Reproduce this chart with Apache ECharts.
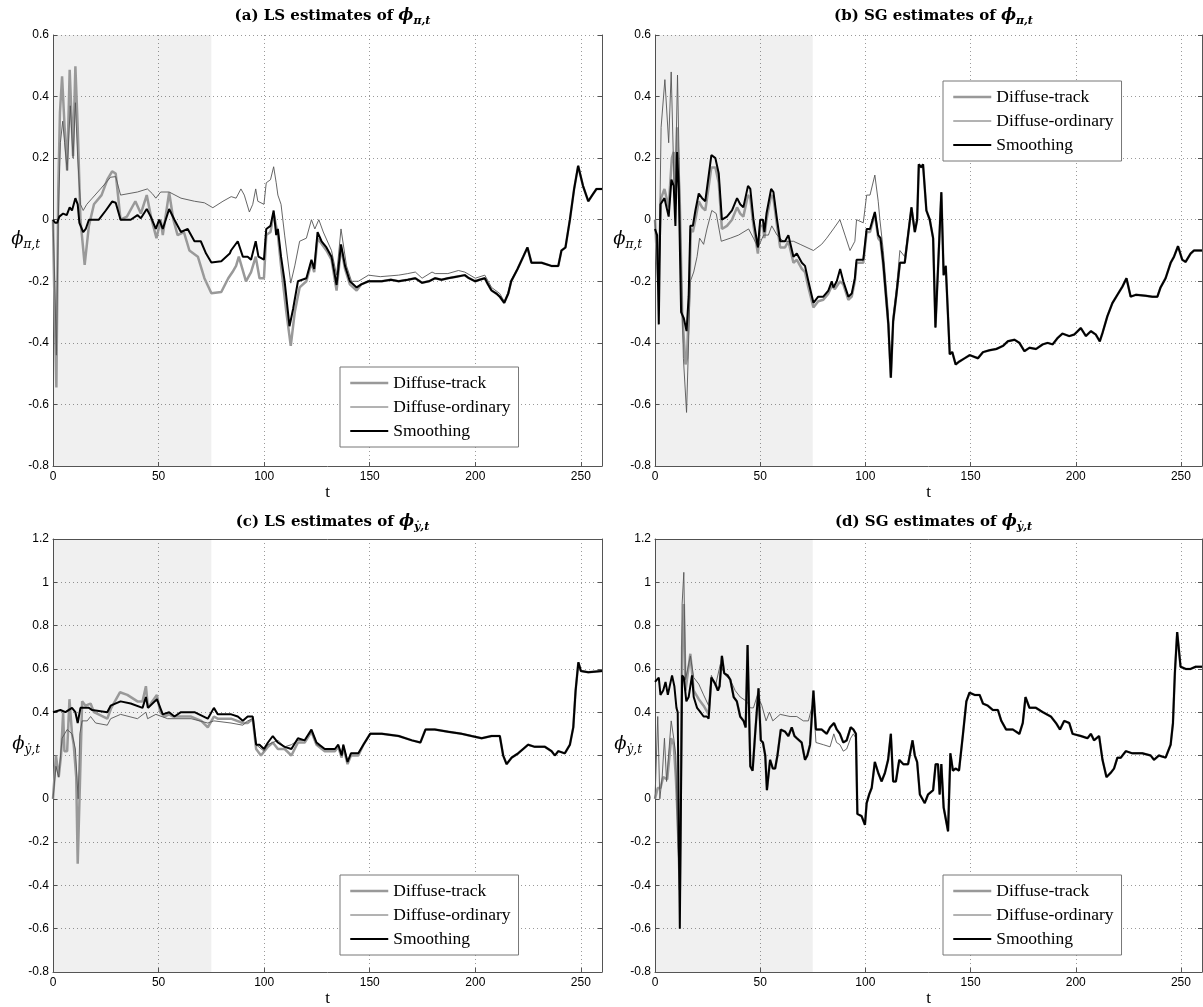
<!DOCTYPE html>
<html>
<head>
<meta charset="utf-8">
<script src="https://cdn.jsdelivr.net/npm/echarts@6/dist/echarts.min.js"></script>
<style>
  html, body { margin: 0; padding: 0; background: #fff; }
  #chart { width: 1203px; height: 1007px; }
</style>
</head>
<body>
<div id="chart"></div>
<script>
// ---- estimates, [t, value] pairs ----

// (a) LS estimates of phi_pi
const lsPiTrack = [[0,0.0],[0.5,-0.2],[1.6,-0.545],[2.5,0.1],[3.3,0.35],[4.3,0.466],[5.5,0.3],[6.7,0.16],[7.9,0.487],[9.5,0.207],[10.6,0.498],[11.7,0.3],[13,0.0],[15,-0.147],[17,-0.02],[19.4,0.05],[23,0.08],[25.7,0.13],[28,0.157],[29.7,0.15],[32,0.0],[35,0.01],[39,0.06],[41.6,0.02],[44.4,0.08],[46.7,0.0],[49,-0.06],[51,0.0],[52,-0.05],[55,0.089],[57,0.0],[59,-0.05],[62,-0.04],[64.6,-0.1],[68.6,-0.12],[71.7,-0.19],[75,-0.239],[79.7,-0.235],[83,-0.19],[85,-0.17],[86.7,-0.15],[88,-0.12],[91.4,-0.2],[93.8,-0.17],[96,-0.12],[97.8,-0.19],[99.9,-0.19],[101,-0.05],[103,-0.04],[104.5,0.02],[106.5,-0.05],[108,-0.15],[110.5,-0.3],[112.6,-0.41],[114.5,-0.3],[116.8,-0.22],[120,-0.2],[122.4,-0.14],[123.7,-0.17],[125.3,-0.06],[129.5,-0.1],[131.9,-0.13],[134.3,-0.23],[136.4,-0.09],[138.3,-0.16],[140.6,-0.21],[143.8,-0.23]];
const lsPiOrd = [[0,0.0],[0.8,-0.2],[1.6,-0.44],[2.5,0.0],[3.5,0.25],[4.6,0.32],[5.5,0.25],[6.7,0.16],[8.2,0.37],[9.5,0.2],[10.6,0.38],[11.7,0.2],[13,0.05],[14.3,0.03],[16,0.05],[18.6,0.07],[22.5,0.1],[27.3,0.138],[29.7,0.14],[32,0.08],[36,0.085],[40,0.09],[44.7,0.1],[47,0.085],[48.7,0.07],[51,0.09],[55,0.09],[60.6,0.07],[67,0.06],[71.7,0.055],[75.7,0.039],[80.5,0.06],[84.4,0.075],[86.7,0.07],[89,0.1],[90.6,0.08],[93,0.025],[94.6,0.05],[96,0.1],[97,0.06],[99.9,0.05],[101,0.12],[103,0.13],[104.5,0.172],[105.7,0.12],[106.5,0.08],[108,0.05],[109.7,-0.05],[112.6,-0.206],[114.5,-0.15],[116.8,-0.07],[120,-0.06],[122.4,0.0],[124,-0.03],[125.9,0.0],[128,-0.04],[131.9,-0.1],[134.3,-0.18],[136.4,-0.03],[139,-0.15],[141.4,-0.2],[144.6,-0.2]];
const lsPiOrdMid = [[149.4,-0.18],[155,-0.185],[163.7,-0.18],[168,-0.175],[171.6,-0.17],[174.8,-0.19],[179.5,-0.17],[181,-0.175],[187,-0.175],[192,-0.165],[195,-0.17],[200,-0.19],[204.5,-0.18],[207.7,-0.22],[211.6,-0.24],[213.7,-0.265],[215.6,-0.235],[217,-0.195]];
const lsPiSmooth = [[0,0.0],[1,-0.01],[2,-0.01],[3,0.01],[4.8,0.02],[6.5,0.015],[7.9,0.04],[9,0.03],[10.6,0.07],[11.7,0.05],[12.5,-0.01],[14.3,-0.04],[15.5,-0.03],[17,0.0],[19.4,0.0],[21.7,0.0],[25,0.03],[28,0.059],[29.7,0.055],[32,0.0],[36.8,0.0],[40,0.015],[41.6,0.005],[44.4,0.035],[46.3,0.01],[48.7,-0.03],[50.3,0.0],[52,-0.03],[55,0.035],[57.5,0.0],[60.6,-0.04],[63.8,-0.03],[67,-0.07],[70,-0.07],[72.5,-0.11],[75,-0.139],[79.7,-0.135],[83.7,-0.11],[84.3,-0.1],[87.5,-0.07],[89.9,-0.12],[92.2,-0.12],[93.8,-0.13],[96,-0.07],[97.3,-0.12],[99.9,-0.13],[101,-0.03],[103,-0.02],[104.5,0.03],[105.7,-0.05],[106.5,-0.03],[108,-0.12],[109.7,-0.2],[112,-0.346],[113.7,-0.29],[116,-0.2],[120,-0.19],[122.4,-0.13],[123.7,-0.16],[125.3,-0.04],[127.2,-0.07],[129.5,-0.09],[131.9,-0.12],[134.3,-0.212],[136.4,-0.08],[138.3,-0.15],[140.6,-0.2],[143.8,-0.22]];
const lsPiTailMid = [[146,-0.21],[149.4,-0.2],[155.7,-0.2],[160,-0.195],[163.7,-0.2],[168,-0.195],[171.6,-0.19],[174.8,-0.205],[178,-0.2],[181,-0.19],[184,-0.195],[187,-0.19],[191,-0.185],[195,-0.18],[197,-0.19],[200,-0.2],[202,-0.195],[204.5,-0.19],[206,-0.21],[207.7,-0.23],[210,-0.24],[211.6,-0.25],[213.7,-0.27],[215.6,-0.24],[217,-0.2]];
const lsPiTailEnd = [[220,-0.16],[222.7,-0.12],[224.7,-0.09],[226.6,-0.14],[231.4,-0.14],[236,-0.15],[239.3,-0.15],[240.8,-0.1],[242.7,-0.09],[244.8,0.0],[246.8,0.1],[248.7,0.175],[251,0.11],[253.5,0.06],[255.4,0.08],[257.4,0.1],[260,0.1]];

// (b) SG estimates of phi_pi
const sgPiTrack = [[0,0.0],[0.7,0.0],[1.5,-0.2],[2.9,0.07],[4.5,0.1],[6.5,0.04],[8,0.2],[8.9,0.22],[9.7,0.05],[10.5,0.3],[11.8,0.05],[12.9,-0.3],[14.5,-0.47],[15.2,-0.45],[16.5,-0.2],[17,-0.03],[18,-0.04],[19.2,0.0],[20.8,0.06],[22.4,0.04],[23.9,0.03],[26.8,0.17],[28.7,0.17],[30.3,0.12],[31.8,-0.03],[34.2,-0.02],[36.6,0.0],[39,0.04],[40.5,0.02],[42,0.01],[44.2,0.08],[45.3,0.07],[46.8,-0.02],[48.9,-0.11],[50,-0.02],[51.3,-0.02],[52,-0.06],[53,0.0],[55.2,0.08],[56.3,0.07],[58,-0.02],[59.5,-0.09],[61.8,-0.09],[63.4,-0.07],[65.8,-0.14],[67.4,-0.13],[69.8,-0.16],[71.3,-0.17],[72.9,-0.22],[75.3,-0.285],[77.6,-0.265],[80,-0.26],[82.4,-0.24],[84,-0.215],[85.5,-0.225],[88,-0.2],[89.5,-0.21],[91.9,-0.26],[93.5,-0.25],[95,-0.2],[95.8,-0.14],[99,-0.14],[100.6,-0.04],[102.2,-0.04],[104.5,0.02],[106.1,-0.06],[107.2,-0.07],[108.5,-0.15]];
const sgPiOrd = [[0,0.0],[0.7,0.0],[1.8,-0.22],[2.9,0.3],[4.7,0.455],[6.5,0.25],[7.7,0.48],[9.4,0.02],[10.7,0.47],[12,0.0],[13.5,-0.45],[15,-0.626],[16.8,-0.2],[18.4,-0.17],[20,-0.12],[21.2,-0.06],[23.1,-0.08],[24.7,-0.03],[27,0.03],[29.1,0.02],[31.5,-0.07],[35.8,-0.06],[39.7,-0.05],[44.5,-0.03],[46.8,-0.06],[49,-0.09],[51.6,-0.05],[53.9,-0.05],[55.5,-0.02],[58,-0.05],[61,-0.07],[65.8,-0.07],[69,-0.08],[75.3,-0.1],[79.2,-0.08],[81.6,-0.06],[84.8,-0.03],[87.9,0.0],[90.3,-0.05],[92.7,-0.1],[95,-0.07],[95.8,0.0],[99,-0.01],[100.6,0.08],[102.2,0.08],[104.5,0.145],[106.1,0.06],[106.9,0.0],[108.5,-0.1],[110.9,-0.3],[112.1,-0.49],[113.2,-0.31],[114.8,-0.22],[116.4,-0.1],[118.7,-0.12]];
const sgPiSmooth = [[0,-0.03],[1,-0.05],[1.8,-0.34],[2.6,0.05],[4.5,0.07],[6.5,0.01],[7.8,0.13],[8.9,0.11],[9.7,-0.02],[10.5,0.22],[11.3,0.1],[12.4,-0.3],[13.7,-0.32],[15,-0.362],[16,-0.25],[16.8,-0.02],[18,-0.02],[19.2,0.03],[20.8,0.085],[22.4,0.07],[23.9,0.06],[26.8,0.21],[28.7,0.2],[30.3,0.15],[31.8,0.0],[34.2,0.01],[36.6,0.03],[39,0.07],[40.5,0.05],[42,0.04],[44.2,0.11],[45.3,0.1],[46.8,0.0],[48.9,-0.09],[50,0.0],[51.3,0.0],[52,-0.04],[53,0.02],[55.2,0.1],[56.3,0.09],[58,0.0],[59.5,-0.07],[61.8,-0.07],[63.4,-0.05],[65.8,-0.12],[67.4,-0.11],[69.8,-0.14],[71.3,-0.15],[72.9,-0.2],[75.3,-0.27],[77.6,-0.25],[80,-0.25],[82.4,-0.23],[84,-0.2],[84.8,-0.22],[86.4,-0.2],[88,-0.16],[89.5,-0.2],[91.9,-0.25],[93.5,-0.24],[95,-0.19],[95.8,-0.13],[99,-0.13],[100.6,-0.03],[102.2,-0.03],[104.5,0.025],[106.1,-0.05],[107.2,-0.06],[108.5,-0.14]];
const sgPiTailMid = [[110.9,-0.34],[112.1,-0.513],[113.2,-0.33],[114.8,-0.24],[116.4,-0.14],[118.7,-0.14]];
const sgPiTailEnd = [[121.9,0.04],[123.5,-0.04],[124.6,0.0],[125.4,0.18],[126.6,0.17],[127.4,0.18],[129,0.03],[130.6,0.0],[132.2,-0.06],[133.3,-0.35],[134.2,-0.35],[136.1,0.089],[137.2,-0.18],[138.2,-0.15],[140.1,-0.437],[141.3,-0.43],[142.9,-0.47],[144.8,-0.46],[147.2,-0.45],[149.6,-0.44],[153.5,-0.45],[155.9,-0.43],[159,-0.424],[162.2,-0.42],[165.4,-0.41],[167.7,-0.395],[170.9,-0.39],[173.2,-0.4],[175.6,-0.427],[178,-0.416],[181.1,-0.42],[184.3,-0.405],[186.6,-0.4],[189,-0.405],[191.4,-0.384],[193.7,-0.37],[196.9,-0.378],[199.3,-0.373],[202.4,-0.352],[204.8,-0.378],[207.2,-0.362],[209.5,-0.373],[211.4,-0.395],[212.7,-0.368],[215,-0.314],[217.4,-0.271],[219.8,-0.244],[222.2,-0.217],[224.1,-0.19],[226.1,-0.25],[228.5,-0.244],[233.2,-0.247],[236.4,-0.25],[238.8,-0.25],[240.3,-0.22],[242.7,-0.19],[245.1,-0.14],[246.7,-0.12],[248.6,-0.086],[250.6,-0.13],[252.2,-0.137],[254.6,-0.11],[256.2,-0.1],[260,-0.1]];

// (c) LS estimates of phi_y
const lsYTrack = [[0,0.0],[1.4,0.2],[2.7,0.1],[3.8,0.2],[4.8,0.4],[5.4,0.22],[6.7,0.22],[7.8,0.46],[9,0.3],[9.8,0.25],[11,0.1],[11.7,-0.3],[12.7,0.05],[13.8,0.45],[15.4,0.43],[17.8,0.44],[19.4,0.4],[25.7,0.37],[27.6,0.42],[31.7,0.492],[35.2,0.48],[40,0.45],[42.4,0.45],[44,0.52],[45,0.42],[47,0.45],[49.2,0.48],[50.8,0.4],[52.7,0.38],[55,0.39],[56.7,0.38],[60.6,0.38],[65.4,0.38],[70.2,0.36],[73.3,0.33],[76.2,0.38],[78,0.37],[84.3,0.37],[89.9,0.35],[92.2,0.35],[94.6,0.37],[96.2,0.23],[98.5,0.2],[101.8,0.24],[104.1,0.26],[106.5,0.23],[109.7,0.23],[112.9,0.2],[116,0.26],[119.2,0.26],[122.4,0.31],[124.8,0.25],[128.7,0.22],[133.5,0.22],[135.1,0.24],[136.7,0.19],[137.5,0.24],[139.5,0.16],[141.1,0.2],[144.6,0.2]];
const lsYOrd = [[0,0.0],[1.4,0.15],[2.7,0.1],[4.3,0.28],[6.7,0.32],[9,0.3],[10.6,0.23],[11.9,0.0],[12.7,0.3],[13.8,0.36],[16.2,0.36],[17.8,0.38],[20.2,0.35],[25.7,0.34],[27.3,0.37],[32,0.39],[40,0.37],[44,0.4],[44.8,0.37],[48.7,0.39],[54.3,0.37],[65.4,0.37],[73.3,0.35],[76.2,0.36],[84.3,0.35],[89.9,0.34],[92.2,0.36],[94.6,0.37],[96.2,0.25],[99.9,0.22],[101.8,0.25],[104.1,0.26],[106.5,0.27],[109.7,0.24],[112.9,0.25],[116,0.27],[119.2,0.27],[122.4,0.31],[124.8,0.25],[128.7,0.23],[133.5,0.23],[135.1,0.25],[136.7,0.2],[137.5,0.25],[139.5,0.17],[141.1,0.21],[144.6,0.21]];
const lsYSmooth = [[0,0.4],[3.5,0.41],[5.9,0.4],[9,0.42],[10.6,0.4],[11.7,0.35],[13,0.42],[17,0.42],[18.6,0.41],[25.7,0.4],[27.3,0.43],[32,0.45],[36.8,0.44],[42.4,0.42],[44,0.47],[45,0.42],[49.2,0.46],[52,0.39],[55,0.4],[57.5,0.38],[60.6,0.4],[67,0.4],[73.3,0.37],[76.2,0.42],[78,0.39],[84.4,0.39],[87.5,0.38],[89.9,0.36],[92.2,0.38],[94.6,0.38],[96.2,0.25],[97.8,0.25],[99.9,0.23],[101.8,0.26],[104.1,0.29],[106.5,0.26],[109.7,0.24],[112.9,0.23],[116,0.28],[119.2,0.27],[122.4,0.32],[124.8,0.26],[128.7,0.23],[133.5,0.23],[135.1,0.25],[136.7,0.2],[137.5,0.25],[139.5,0.17],[141.1,0.21],[144.6,0.21]];
const lsYTail = [[147,0.25],[150.2,0.3],[155.7,0.3],[163.7,0.29],[170,0.27],[174,0.26],[176.4,0.32],[180.8,0.32],[187.1,0.31],[193.5,0.3],[198.2,0.29],[203,0.28],[207.7,0.29],[211.6,0.29],[213.2,0.2],[214.8,0.16],[217.2,0.19],[220.3,0.21],[225,0.25],[228.2,0.24],[233,0.24],[236.1,0.22],[237.7,0.2],[239.3,0.22],[242.4,0.21],[244.8,0.25],[246.4,0.33],[247.5,0.5],[248.8,0.63],[250,0.59],[253.5,0.585],[260,0.59]];

// (d) SG estimates of phi_y
const sgYTrack = [[0,0.0],[0.7,0.0],[1.3,0.05],[2.6,0.05],[3.9,0.1],[5.8,0.09],[7.7,0.28],[8.9,0.25],[9.9,0.1],[10.8,-0.1],[11.8,-0.42],[12.9,0.7],[13.7,0.9],[14.5,0.5],[16.8,0.67],[18.4,0.5],[20.8,0.46],[23.1,0.43],[25.5,0.39]];
const sgYOrd = [[0,0.0],[0.7,0.0],[1.3,0.38],[2.3,0.0],[3.4,0.1],[4.5,0.28],[5.5,0.08],[7.7,0.36],[8.9,0.28],[9.9,0.2],[10.8,-0.2],[11.8,-0.4],[12.9,0.9],[13.7,1.046],[14.5,0.55],[16.8,0.66],[18.4,0.56],[20.8,0.53],[23.1,0.48],[25.5,0.43],[26.8,0.57],[28.7,0.52],[31,0.62],[33.4,0.57],[35.8,0.55],[38.1,0.5],[40.5,0.47],[43.6,0.45],[45.3,0.42],[46.8,0.42],[48.7,0.48],[50.8,0.43],[52.8,0.36],[54.4,0.4],[56,0.36],[59.5,0.39],[64.2,0.38],[67.4,0.38],[70.5,0.36],[72.9,0.36],[75.3,0.45],[76.5,0.26],[80,0.25],[83.2,0.24],[85,0.3],[86.3,0.26],[87.9,0.25],[89.5,0.22],[91.1,0.23],[93,0.28],[94.3,0.3],[95.5,0.28]];
const sgYSmooth = [[0,0.54],[0.7,0.54],[1.8,0.56],[2.6,0.48],[3.9,0.5],[5,0.54],[6.1,0.48],[7,0.48],[8.1,0.57],[9.2,0.52],[10.2,0.42],[10.8,0.4],[11.3,-0.15],[11.8,-0.6],[12.4,0.05],[12.9,0.57],[13.7,0.56],[14.9,0.45],[16,0.47],[17.6,0.57],[18.4,0.47],[20,0.42],[21.6,0.4],[23.1,0.38],[24.7,0.38],[25.5,0.37]];
const sgYMid = [[26.8,0.56],[28.7,0.53],[29.9,0.5],[30.7,0.52],[31.8,0.66],[32.9,0.58],[34.5,0.57],[35.8,0.55],[37.4,0.47],[38.9,0.45],[40.5,0.38],[42.1,0.36],[43.1,0.33],[44,0.71],[45.3,0.15],[46.4,0.13],[47.6,0.3],[49.2,0.51],[50.3,0.27],[51.3,0.26],[52.4,0.2],[53.2,0.04],[54.7,0.18],[56,0.14],[57.1,0.14],[58.2,0.2],[59.8,0.32],[61.8,0.31],[63.4,0.29],[65,0.33],[66.3,0.29],[67.4,0.28],[69.7,0.26],[71.3,0.18],[72.4,0.2],[73.7,0.25],[75.3,0.5],[76.5,0.32],[79.2,0.32],[81.6,0.3],[83.2,0.33],[85.1,0.35],[86.4,0.32],[87.9,0.3],[89.5,0.26],[91.1,0.27],[93,0.33],[94.3,0.32],[95.5,0.3]];
const sgYTail = [[96.2,-0.07],[98.2,-0.08],[99.8,-0.12],[100.6,-0.02],[101.8,0.02],[103,0.05],[104.5,0.17],[106.1,0.12],[107.7,0.08],[109.3,0.12],[110.8,0.18],[112.1,0.3],[113.2,0.08],[114.5,0.08],[116.1,0.18],[118,0.16],[120.3,0.16],[122.4,0.27],[123.5,0.2],[124.6,0.17],[125.9,0.02],[128.2,-0.02],[129.8,0.02],[132.2,0.04],[133.4,0.16],[134.5,0.16],[135.3,0.02],[136.1,0.16],[137.2,-0.04],[139.3,-0.15],[140.4,0.21],[141.6,0.13],[142.9,0.14],[144.5,0.13],[146.4,0.3],[148,0.45],[149.5,0.49],[151.9,0.48],[154.3,0.48],[155.9,0.44],[158.2,0.43],[160.6,0.41],[163,0.41],[164.6,0.36],[166.9,0.32],[170.1,0.32],[173.2,0.3],[174.8,0.35],[176.1,0.47],[178,0.42],[181.1,0.42],[184.3,0.4],[188.2,0.38],[190.6,0.35],[192.5,0.32],[194.5,0.36],[196.9,0.35],[198.5,0.3],[202.4,0.29],[205.6,0.28],[207.2,0.3],[208.7,0.27],[211.1,0.29],[212.7,0.18],[214.6,0.1],[216.6,0.12],[218.2,0.14],[219.8,0.19],[221.4,0.19],[223.8,0.22],[226.9,0.21],[231.6,0.21],[235.6,0.2],[237.2,0.18],[239.5,0.2],[242.7,0.19],[245.1,0.25],[246.2,0.35],[247.1,0.58],[248.2,0.77],[249.8,0.61],[252.2,0.6],[254.6,0.6],[257,0.61],[260,0.61]];

// axis ranges and the shaded start-up window
const tRange = [0, 260];
const tStep = 50;
const piRange = [-0.8, 0.6];
const yRange = [-0.8, 1.2];
const yStep = 0.2;
const shadeWindow = [0, 75];
const seriesNames = ['Diffuse-track', 'Diffuse-ordinary', 'Smoothing'];

// ---- layout of the four panels ----
// coveredTick: the tick label that sits under the y-axis symbol and is left blank
const panels = [
  { prefix: '(a) LS estimates of ', sub: 'π,t', box: [53, 35, 549, 431], range: piRange, boxTop: false,
    titleTop: 0, legend: [340, 367], coveredTick: null,
    track: [...lsPiTrack, ...lsPiTailMid, ...lsPiTailEnd],
    ord: [...lsPiOrd, ...lsPiOrdMid, ...lsPiTailEnd],
    smooth: [...lsPiSmooth, ...lsPiTailMid, ...lsPiTailEnd] },
  { prefix: '(b) SG estimates of ', sub: 'π,t', box: [655, 35, 547, 431], range: piRange, boxTop: false,
    titleTop: 0, legend: [943, 81], coveredTick: null,
    track: [...sgPiTrack, ...sgPiTailMid, ...sgPiTailEnd],
    ord: [...sgPiOrd, ...sgPiTailEnd],
    smooth: [...sgPiSmooth, ...sgPiTailMid, ...sgPiTailEnd] },
  { prefix: '(c) LS estimates of ', sub: 'ẏ,t', box: [53, 539, 549, 433], range: yRange, boxTop: true,
    titleTop: 506, legend: [340, 875], coveredTick: 0.2,
    track: [...lsYTrack, ...lsYTail],
    ord: [...lsYOrd, ...lsYTail],
    smooth: [...lsYSmooth, ...lsYTail] },
  { prefix: '(d) SG estimates of ', sub: 'ẏ,t', box: [655, 539, 547, 433], range: yRange, boxTop: true,
    titleTop: 506, legend: [943, 875], coveredTick: 0.2,
    track: [...sgYTrack, ...sgYMid, ...sgYTail],
    ord: [...sgYOrd, ...sgYTail],
    smooth: [...sgYSmooth, ...sgYMid, ...sgYTail] }
];

const SERIF = '"DejaVu Serif", "Liberation Serif", serif';
const LEGEND_SERIF = '"Liberation Serif", "DejaVu Serif", serif';
const SANS = '"Liberation Sans", Arial, sans-serif';
const AXIS_COLOR = '#555';
const GRID_LINE = { show: true, lineStyle: { color: '#9a9a9a', type: [1, 3], width: 1 } };

const titleRich = {
  n: { fontFamily: SERIF, fontWeight: 'bold', fontSize: 15, color: '#000', lineHeight: 22 },
  f: { fontFamily: SERIF, fontStyle: 'italic', fontWeight: 'bold', fontSize: 16, color: '#000', lineHeight: 22 },
  s: { fontFamily: SERIF, fontStyle: 'italic', fontWeight: 'bold', fontSize: 11, color: '#000', lineHeight: 12, verticalAlign: 'bottom' }
};
const labelRich = {
  f: { fontFamily: SERIF, fontStyle: 'italic', fontSize: 18, color: '#000', lineHeight: 22 },
  s: { fontFamily: SERIF, fontStyle: 'italic', fontSize: 12, color: '#000', lineHeight: 12, verticalAlign: 'bottom' }
};

const option = {
  animation: false,
  backgroundColor: '#fff',
  title: panels.map(p => ({
    text: `{n|${p.prefix}}{f|ϕ}{s|${p.sub}}`,
    left: p.box[0] + p.box[2] / 2,
    top: p.titleTop,
    textAlign: 'center',
    textStyle: { rich: titleRich }
  })),
  grid: panels.map(p => ({
    left: p.box[0], top: p.box[1], width: p.box[2], height: p.box[3],
    containLabel: false, outerBoundsMode: 'none'
  })),
  xAxis: [],
  yAxis: [],
  legend: panels.map(p => ({
    left: p.legend[0], top: p.legend[1],
    orient: 'vertical',
    backgroundColor: '#fff',
    borderColor: '#777', borderWidth: 1, borderRadius: 0,
    padding: [7, 8, 7, 9],
    itemGap: 6, itemWidth: 38, itemHeight: 18,
    selectedMode: false,
    textStyle: { fontFamily: LEGEND_SERIF, fontSize: 17.5, color: '#000' },
    data: [
      { name: seriesNames[0], lineStyle: { width: 2.5, color: '#999' }, itemStyle: { opacity: 0 } },
      { name: seriesNames[1], lineStyle: { width: 0.9, color: '#555' }, itemStyle: { opacity: 0 } },
      { name: seriesNames[2], lineStyle: { width: 2, color: '#000' }, itemStyle: { opacity: 0 } }
    ]
  })),
  series: []
};

panels.forEach((p, i) => {
  // bottom t axis with labels and grid lines
  option.xAxis.push({
    type: 'value', gridIndex: i, min: tRange[0], max: tRange[1], interval: tStep,
    name: 't', nameLocation: 'middle', nameGap: 18, nameMoveOverlap: false,
    nameTextStyle: { fontFamily: LEGEND_SERIF, fontSize: 17, color: '#000' },
    axisLine: { show: true, onZero: false, lineStyle: { color: AXIS_COLOR } },
    axisTick: { show: true, inside: true, length: 4, lineStyle: { color: AXIS_COLOR } },
    axisLabel: { fontFamily: SANS, fontSize: 12, color: '#000', margin: 5,
      formatter: v => (v % tStep === 0 ? String(v) : '') },
    splitLine: GRID_LINE
  });
  // top edge of the box
  option.xAxis.push({
    type: 'value', gridIndex: i, position: 'top', min: tRange[0], max: tRange[1], interval: tStep,
    axisLine: { show: p.boxTop, onZero: false, lineStyle: { color: AXIS_COLOR } },
    axisTick: { show: false }, axisLabel: { show: false }, splitLine: { show: false }
  });
  // left value axis
  option.yAxis.push({
    type: 'value', gridIndex: i, min: p.range[0], max: p.range[1], interval: yStep,
    name: `{f|ϕ}{s|${p.sub}}`, nameLocation: 'middle', nameRotate: 0, nameGap: 13, nameMoveOverlap: false,
    nameTextStyle: { rich: labelRich, align: 'right', padding: [0, 0, 22, 0] },
    axisLine: { show: true, onZero: false, lineStyle: { color: AXIS_COLOR } },
    axisTick: { show: true, inside: true, length: 4, lineStyle: { color: AXIS_COLOR } },
    axisLabel: { fontFamily: SANS, fontSize: 12, color: '#000', margin: 4,
      formatter: v => (p.coveredTick !== null && Math.abs(v - p.coveredTick) < 1e-9 ? '' : String(+v.toFixed(1))) },
    splitLine: GRID_LINE
  });
  // right edge of the box
  option.yAxis.push({
    type: 'value', gridIndex: i, position: 'right', min: p.range[0], max: p.range[1], interval: yStep,
    axisLine: { show: true, onZero: false, lineStyle: { color: AXIS_COLOR } },
    axisTick: { show: true, inside: true, length: 4, lineStyle: { color: AXIS_COLOR } },
    axisLabel: { show: false }, splitLine: { show: false }
  });

  const common = { type: 'line', xAxisIndex: 2 * i, yAxisIndex: 2 * i, symbol: 'none', showSymbol: false };
  option.series.push({
    ...common, name: seriesNames[0], z: 2, data: p.track,
    lineStyle: { width: 2.5, color: '#999' }, itemStyle: { color: '#999' },
    markArea: { silent: true, itemStyle: { color: 'rgba(0,0,0,0.058)' },
      data: [[{ xAxis: shadeWindow[0] }, { xAxis: shadeWindow[1] }]] }
  });
  option.series.push({
    ...common, name: seriesNames[1], z: 3, data: p.ord,
    lineStyle: { width: 0.9, color: '#555' }, itemStyle: { color: '#555' }
  });
  option.series.push({
    ...common, name: seriesNames[2], z: 4, data: p.smooth,
    lineStyle: { width: 2, color: '#000' }, itemStyle: { color: '#000' }
  });
});

const chart = echarts.init(document.getElementById('chart'));
chart.setOption(option);
</script>
</body>
</html>
